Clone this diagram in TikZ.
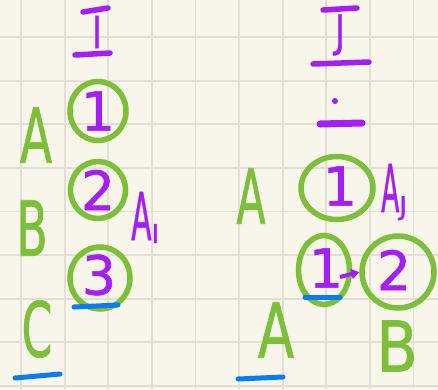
\documentclass[tikz,border=0pt]{standalone}
\usepackage{graphicx}
\usepackage{fontspec}
\setmainfont{DejaVu Sans}[FakeBold=1]
\usetikzlibrary{shapes.geometric,arrows.meta}
\definecolor{paper}{HTML}{F8F5EA}
\definecolor{gridline}{HTML}{E2DFD4}
\definecolor{inkgreen}{HTML}{7CC03A}
\definecolor{inkpurple}{HTML}{A51EF6}
\definecolor{inkblue}{HTML}{0B7BF2}
\newcommand{\narrow}[2][0.62]{\scalebox{#1}[1]{#2}}
\tikzset{
  letter/.style={text=inkgreen, inner sep=0pt, font=\fontsize{76}{76}\selectfont},
  digit/.style={text=inkpurple, inner sep=0pt, font=\fontsize{54}{54}\selectfont},
  ring/.style={draw=inkgreen, line width=5.5pt, ellipse, inner sep=0pt},
  tag/.style={text=inkpurple, inner sep=0pt, anchor=base west, font=\fontsize{66}{66}\selectfont},
  stroke/.style={inkpurple, line width=5.5pt, line cap=round},
  uline/.style={inkblue, line width=5pt, line cap=round}
}
\newcommand{\sub}[1]{\raisebox{-3pt}{\fontsize{26}{26}\selectfont #1}}
\begin{document}
\begin{tikzpicture}[x=1pt,y=-1pt]
  \fill[paper] (0,0) rectangle (438,389);
  \useasboundingbox (0,0) rectangle (438,389);
  % grid
  \foreach \i in {0,...,9} {
    \draw[gridline, line width=1.8pt] (21+43.6*\i,0) -- (21+43.6*\i,389);
  }
  \foreach \j in {0,...,8} {
    \draw[gridline, line width=1.8pt] (0,37+43.6*\j) -- (438,37+43.6*\j);
  }

  % column I
  \node[text=inkpurple, inner sep=0pt, font=\fontsize{44}{44}\selectfont] (hi) at (97,32) {\narrow[0.8]{I}};
  \draw[stroke] (83,12) -- (108,8);
  \draw[stroke] (75,55) -- (110,53);

  \node[letter] (la) at (36,135) {\narrow{A}};
  \node[ring, minimum width=56pt, minimum height=59pt] (i1) at (98,111) {};
  \node[digit] (d1) at (i1) {1};
  \node[letter] (lb) at (32,228) {\narrow[0.6]{B}};
  \node[ring, minimum width=55pt, minimum height=57pt] (i2) at (98,190) {};
  \node[digit] (d2) at (i2) {2};
  \node[tag] (ai) at (131,240) {\narrow[0.45]{A}\sub{I}};
  \node[ring, minimum width=60pt, minimum height=62pt] (i3) at (100,278) {};
  \node[digit] (d3) at (99,275) {3};
  \draw[uline] (74,307) -- (118,305);
  \node[letter] (lc) at (37,329) {\narrow[0.58]{C}};
  \draw[uline] (15,378) -- (60,374);

  % column J
  \node[text=inkpurple, inner sep=0pt, font=\fontsize{44}{44}\selectfont] (hj) at (340,35) {\narrow[0.8]{J}};
  \draw[stroke] (323,10) -- (357,8);
  \draw[stroke] (313,64) -- (369,62);
  \fill[inkpurple] (335,101) circle (3pt);
  \draw[stroke, line width=7pt] (320,124) -- (362,123);

  \node[letter] (ra) at (251,196) {\narrow[0.56]{A}};
  \node[ring, minimum width=72pt, minimum height=63pt] (j1) at (337,188) {};
  \node[digit] (e1) at (340,186) {1};
  \node[tag] (aj) at (381,212) {\narrow[0.4]{A}\sub{J}};
  \node[ring, minimum width=51pt, minimum height=69pt] (j2) at (324,270) {};
  \node[digit] (e2) at (326,268) {1};
  \node[ring, minimum width=72pt, minimum height=72pt] (j3) at (398,272) {};
  \node[digit] (e3) at (394,270) {2};
  \draw[inkpurple, line width=4pt, -{Triangle[length=8pt,width=10pt]}] ([xshift=14pt,yshift=-9pt]e2.center) -- (j3.west);
  \draw[uline] (305,297) -- (340,297);
  \node[letter] (rb) at (276,330) {\narrow[0.7]{A}};
  \draw[uline] (238,379) -- (283,377);
  \node[letter] (rc) at (397,346) {\scalebox{0.8}[0.92]{B}};
\end{tikzpicture}
\end{document}
